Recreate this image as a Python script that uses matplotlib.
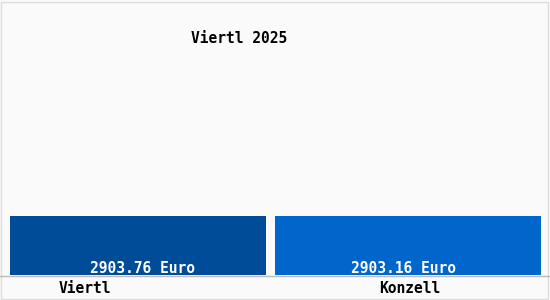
import numpy as np
import matplotlib.pyplot as plt
from matplotlib.patches import Rectangle
from matplotlib.lines import Line2D

title = "Viertl 2025"
places = ["Viertl", "Konzell"]
values = [2903.76, 2903.16]
colors = ["#004c99", "#0066cc"]

W, H = 550, 300
BASE = 275  # baseline pixel row
TOP = 216   # bar top pixel row
PX = 270.0  # pixels per category step

fig = plt.figure(figsize=(W / 100, H / 100), dpi=100)
fig.patch.set_facecolor("#fafafa")

ax = fig.add_axes([10 / W, (H - BASE) / H, 531 / W, BASE / H])
ax.set_facecolor("none")
widths = [256 / PX, 266 / PX]
x = np.arange(len(values))
ax.bar(x, values, width=widths, color=colors)
ax.set_xlim(-widths[0] / 2, x[-1] + widths[-1] / 2)
ax.set_ylim(0, max(values) * BASE / (BASE - TOP))
ax.axis("off")

font = dict(family="DejaVu Sans Mono", fontsize=10.5, fontweight="bold")
for px, v in zip([143, 403], values):
    fig.text(px / W, 1 - 273 / H, f"{v:.2f} Euro", color="white",
             ha="center", va="baseline", **font)

fig.text(239 / W, 1 - 43 / H, title, ha="center", va="baseline", **font)
for px, name in zip([85, 410], places):
    fig.text(px / W, 1 - 293 / H, name, ha="center", va="baseline", **font)

fig.add_artist(Line2D([0, 1], [(H - BASE - 0.5) / H] * 2, color="#bbbbbb", lw=1))
fig.add_artist(Rectangle((1 / W, 1 / H), (W - 3) / W, (H - 3) / H, fill=False,
                         edgecolor="#dddddd", lw=1))

fig.savefig("out.png", dpi=100, facecolor=fig.get_facecolor())
